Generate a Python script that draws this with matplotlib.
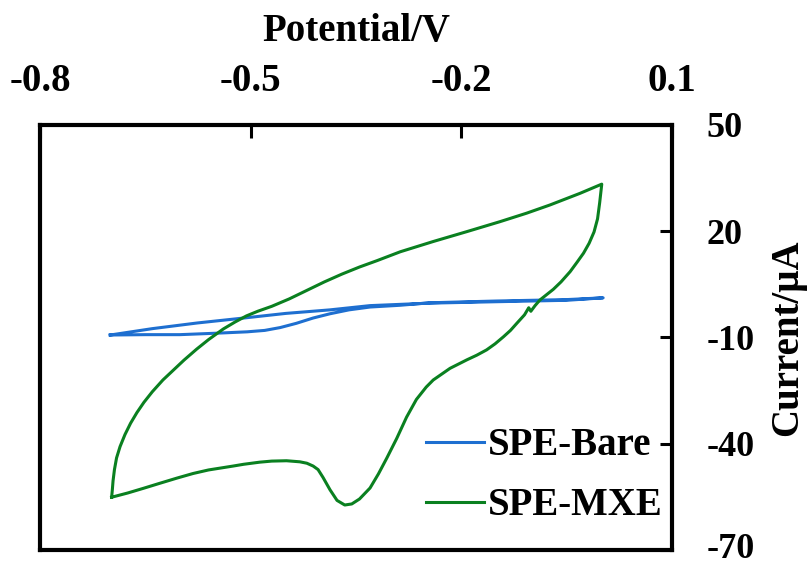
import numpy as np
import matplotlib
matplotlib.use("Agg")
import matplotlib.pyplot as plt
import matplotlib.transforms as mtransforms

plt.rcParams['font.family'] = ['Liberation Serif', 'DejaVu Serif']
plt.rcParams['font.weight'] = 'bold'
plt.rcParams['axes.unicode_minus'] = False

# cyclic voltammograms (potential in V, current in uA), traced as closed loops
bare_v = [-0.700, -0.650, -0.601, -0.550, -0.505, -0.480, -0.458, -0.435, -0.411,
          -0.387, -0.360, -0.330, -0.287, -0.245, -0.150, -0.050, 0.002,
          -0.050, -0.150, -0.245, -0.330, -0.387, -0.450, -0.505, -0.576, -0.640, -0.700]
bare_i = [-9.3, -9.2, -9.2, -8.8, -8.4, -8.0, -7.2, -6.0, -4.5,
          -3.3, -2.2, -1.4, -0.9, -0.2, 0.3, 0.7, 1.2,
          0.5, 0.1, -0.3, -1.0, -2.2, -3.2, -4.4, -5.9, -7.5, -9.3]

# forward sweep (left vertex -> right vertex), then reverse sweep back
mxe_v = [-0.698, -0.675, -0.653, -0.630, -0.605, -0.582, -0.560, -0.525, -0.510,
         -0.487, -0.470, -0.449, -0.430, -0.420, -0.411,
         -0.404, -0.397, -0.387, -0.377, -0.366, -0.356, -0.345, -0.330, -0.318,
         -0.306, -0.292, -0.278, -0.264, -0.250, -0.240, -0.216, -0.192, -0.178,
         -0.164, -0.152, -0.140, -0.130, -0.121, -0.110, -0.104, -0.101, -0.095,
         -0.088, -0.069, -0.058, -0.045, -0.035, -0.026, -0.018, -0.011, -0.006,
         -0.003, 0.000,
         -0.031, -0.074, -0.107, -0.145, -0.192, -0.240, -0.287, -0.320, -0.345,
         -0.370, -0.395, -0.420, -0.445, -0.470, -0.490, -0.506, -0.522, -0.539,
         -0.560, -0.577, -0.595, -0.610, -0.625, -0.640, -0.652, -0.662, -0.671,
         -0.679, -0.686, -0.691, -0.694, -0.696, -0.697, -0.698]
mxe_i = [-55.1, -53.9, -52.6, -51.2, -49.7, -48.4, -47.4, -46.3, -45.8,
         -45.2, -44.9, -44.8, -45.1, -45.5, -46.3,
         -47.3, -49.5, -53.0, -56.0, -57.3, -57.0, -55.6, -52.5, -48.5,
         -44.0, -38.5, -32.5, -27.5, -24.0, -22.0, -18.7, -16.3, -15.0,
         -13.5, -11.8, -9.8, -8.0, -6.0, -3.6, -1.6, -2.6, -1.0,
         0.6, 3.6, 5.7, 8.6, 11.3, 13.8, 16.6, 19.8, 23.5,
         28.0, 33.3,
         30.7, 27.4, 25.1, 22.7, 19.9, 17.1, 14.2, 11.7, 9.9,
         7.9, 5.7, 3.3, 0.9, -1.2, -2.6, -3.9, -5.6, -7.6,
         -10.6, -13.3, -16.4, -19.2, -22.0, -25.3, -28.3, -31.2, -34.2,
         -37.4, -40.8, -44.0, -47.3, -50.5, -53.0, -55.1]

x_ticks = [-0.8, -0.5, -0.2, 0.1]
y_ticks = [50, 20, -10, -40, -70]

fig = plt.figure(figsize=(8.1, 5.63), dpi=100)
ax = fig.add_axes([0.0494, 0.0231, 0.7802, 0.7549])

ax.plot(bare_v, bare_i, color='#1e6fd0', lw=2.2, label='SPE-Bare')
ax.plot(mxe_v, mxe_i, color='#0a8020', lw=2.2, label='SPE-MXE')

ax.set_xlim(-0.8, 0.1)
ax.set_ylim(-70, 50)
ax.set_xticks(x_ticks)
ax.set_xticklabels([f'{t:.1f}' for t in x_ticks])
ax.set_yticks(y_ticks)

ax.xaxis.tick_top()
ax.xaxis.set_label_position('top')
ax.yaxis.tick_right()
ax.yaxis.set_label_position('right')
ax.tick_params(axis='x', direction='in', length=9, width=2.2, labelsize=28, pad=18)
ax.tick_params(axis='y', direction='in', length=9, width=2.2, labelsize=26, pad=25)
for s in ax.spines.values():
    s.set_linewidth(3)

# lift the bottom tick label a little so it stays inside the figure
lbl = ax.get_yticklabels()[-1]
lbl.set_transform(lbl.get_transform() +
                  mtransforms.ScaledTranslation(0, 3 / 72, fig.dpi_scale_trans))

ax.set_xlabel('Potential/V', fontsize=28, fontweight='bold', labelpad=16)
ax.set_ylabel('Current/µA', fontsize=28, fontweight='bold', labelpad=10)

ax.legend(loc='lower right', bbox_to_anchor=(0.985, 0.06), frameon=False,
          fontsize=28, handlelength=1.5, handletextpad=0.1, labelspacing=0.6,
          borderaxespad=0, borderpad=0)

fig.savefig('out.png', dpi=100)
